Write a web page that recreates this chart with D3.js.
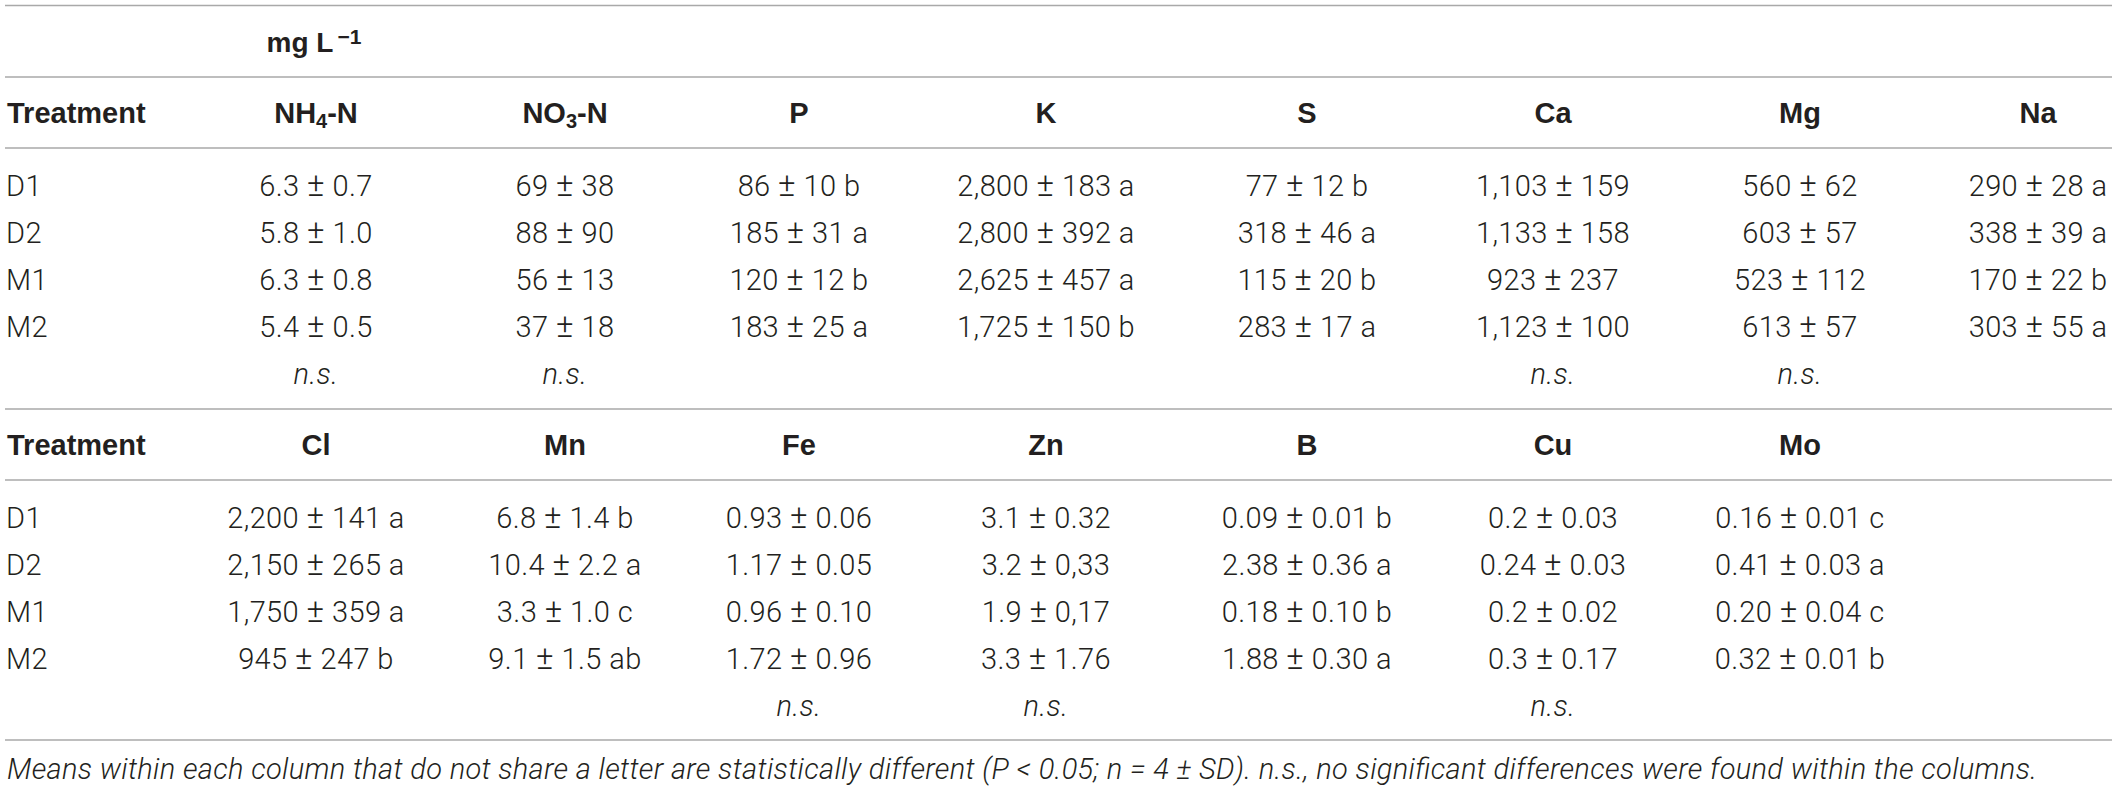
<!DOCTYPE html>
<html>
<head>
<meta charset="utf-8">
<script src="https://cdn.jsdelivr.net/npm/d3@7"></script>
<style>
  body { margin: 0; background: #fff; }
  svg { display: block; }
</style>
</head>
<body>
<div id="table"></div>
<script>
// Treatments (rows)
const treatments = ["D1", "D2", "M1", "M2"];

// Upper block: column headers [main, subscript, tail]
const headers1 = [["NH", "4", "-N"], ["NO", "3", "-N"], ["P"], ["K"], ["S"], ["Ca"], ["Mg"], ["Na"]];
const nh4 = ["6.3 ± 0.7", "5.8 ± 1.0", "6.3 ± 0.8", "5.4 ± 0.5"];
const no3 = ["69 ± 38", "88 ± 90", "56 ± 13", "37 ± 18"];
const p   = ["86 ± 10 b", "185 ± 31 a", "120 ± 12 b", "183 ± 25 a"];
const k   = ["2,800 ± 183 a", "2,800 ± 392 a", "2,625 ± 457 a", "1,725 ± 150 b"];
const s   = ["77 ± 12 b", "318 ± 46 a", "115 ± 20 b", "283 ± 17 a"];
const ca  = ["1,103 ± 159", "1,133 ± 158", "923 ± 237", "1,123 ± 100"];
const mg  = ["560 ± 62", "603 ± 57", "523 ± 112", "613 ± 57"];
const na  = ["290 ± 28 a", "338 ± 39 a", "170 ± 22 b", "303 ± 55 a"];
const ns1 = [true, true, false, false, false, true, true, false];

// Lower block
const headers2 = [["Cl"], ["Mn"], ["Fe"], ["Zn"], ["B"], ["Cu"], ["Mo"]];
const cl = ["2,200 ± 141 a", "2,150 ± 265 a", "1,750 ± 359 a", "945 ± 247 b"];
const mn = ["6.8 ± 1.4 b", "10.4 ± 2.2 a", "3.3 ± 1.0 c", "9.1 ± 1.5 ab"];
const fe = ["0.93 ± 0.06", "1.17 ± 0.05", "0.96 ± 0.10", "1.72 ± 0.96"];
const zn = ["3.1 ± 0.32", "3.2 ± 0,33", "1.9 ± 0,17", "3.3 ± 1.76"];
const b  = ["0.09 ± 0.01 b", "2.38 ± 0.36 a", "0.18 ± 0.10 b", "1.88 ± 0.30 a"];
const cu = ["0.2 ± 0.03", "0.24 ± 0.03", "0.2 ± 0.02", "0.3 ± 0.17"];
const mo = ["0.16 ± 0.01 c", "0.41 ± 0.03 a", "0.20 ± 0.04 c", "0.32 ± 0.01 b"];
const ns2 = [false, false, true, true, false, true, false];

const unitLabel = "mg L";
const footnote = "Means within each column that do not share a letter are statistically different (P < 0.05; n = 4 ± SD). n.s., no significant differences were found within the columns.";

const blocks = [
  {headers: headers1, cols: [nh4, no3, p, k, s, ca, mg, na], ns: ns1},
  {headers: headers2, cols: [cl, mn, fe, zn, b, cu, mo], ns: ns2}
];

const width = 2117, height = 789;
const ink = "#231f20";
const bodyFont = "Roboto, 'Liberation Sans', sans-serif";
const headFont = "'Liberation Sans', Arial, sans-serif";

const svg = d3.select("#table")
  .append("svg")
  .attr("width", width)
  .attr("height", height)
  .attr("viewBox", [0, 0, width, height]);

// column centres
const xScale = d3.scaleOrdinal()
  .domain(d3.range(8))
  .range([316, 565, 799, 1046, 1307, 1553, 1800, 2038]);

// rows: 0 = header, 1..4 = treatments, 5 = n.s.
const yScale = d3.scaleLinear()
  .domain([0, 1, 5])
  .range([113, 186, 374]);

const blockOffset = d3.scaleLinear().domain([0, 1]).range([0, 332]);

const rule = (y) => svg.append("line")
  .attr("x1", 5).attr("x2", 2112)
  .attr("y1", y).attr("y2", y)
  .attr("stroke", "#a9a9a9")
  .attr("stroke-width", 1.6);

const bodyText = sel => sel
  .style("font-family", bodyFont)
  .style("font-weight", 300)
  .style("font-size", "29px")
  .style("letter-spacing", "0.4px")
  .style("fill", ink);

rule(5.5);
rule(77);

// unit label over first column
const unit = svg.append("text")
  .attr("x", xScale(0) - 2)
  .attr("y", 42)
  .attr("dy", "0.35em")
  .attr("text-anchor", "middle")
  .style("font-family", headFont)
  .style("font-weight", "bold")
  .style("font-size", "28px")
  .style("fill", ink);
unit.append("tspan").text(unitLabel);
unit.append("tspan").attr("dx", 4).attr("baseline-shift", "38%").style("font-size", "21px").text("−1");

blocks.forEach((blk, bi) => {
  const off = blockOffset(bi);
  const g = svg.append("g").attr("transform", `translate(0,${off})`);

  if (bi === 1) rule(off + 77);
  g.append("line")
    .attr("x1", 5).attr("x2", 2112)
    .attr("y1", 148).attr("y2", 148)
    .attr("stroke", "#a9a9a9")
    .attr("stroke-width", 1.6);

  // header row
  g.append("text")
    .attr("x", 7)
    .attr("y", yScale(0))
    .attr("dy", "0.35em")
    .style("font-family", headFont)
    .style("font-weight", "bold")
    .style("font-size", "29px")
    .style("fill", ink)
    .text("Treatment");

  g.selectAll("text.head")
    .data(blk.headers)
    .join("text")
      .attr("class", "head")
      .attr("x", (d, i) => xScale(i))
      .attr("y", yScale(0))
      .attr("dy", "0.35em")
      .attr("text-anchor", "middle")
      .style("font-family", headFont)
      .style("font-weight", "bold")
      .style("font-size", "29px")
      .style("fill", ink)
      .each(function(d) {
        const t = d3.select(this);
        t.append("tspan").text(d[0]);
        if (d.length > 1) {
          t.append("tspan").attr("baseline-shift", "-25%").style("font-size", "20px").text(d[1]);
          t.append("tspan").text(d[2]);
        }
      });

  // treatment labels
  g.selectAll("text.treat")
    .data(treatments)
    .join("text")
      .attr("class", "treat")
      .attr("x", 6)
      .attr("y", (d, i) => yScale(i + 1))
      .attr("dy", "0.35em")
      .call(bodyText)
      .text(d => d);

  // values; the ± sign is drawn a bit larger, as in the print
  blk.cols.forEach((col, ci) => {
    g.selectAll(`text.v${ci}`)
      .data(col)
      .join("text")
        .attr("class", `v${ci}`)
        .attr("x", xScale(ci))
        .attr("y", (d, i) => yScale(i + 1))
        .attr("dy", "0.35em")
        .attr("text-anchor", "middle")
        .call(bodyText)
        .each(function(d) {
          const [m, rest] = d.split(" ± ");
          const t = d3.select(this);
          t.append("tspan").text(m + " ");
          t.append("tspan").style("font-size", "33px").style("font-weight", 300).text("±");
          t.append("tspan").text(" " + rest);
        });
  });

  // n.s. markers
  g.selectAll("text.ns")
    .data(blk.ns.map((v, i) => ({v, i})).filter(d => d.v))
    .join("text")
      .attr("class", "ns")
      .attr("x", d => xScale(d.i))
      .attr("y", yScale(5))
      .attr("dy", "0.35em")
      .attr("text-anchor", "middle")
      .call(bodyText)
      .style("font-style", "italic")
      .text("n.s.");
});

rule(740);

svg.append("text")
  .attr("x", 7)
  .attr("y", 769)
  .attr("dy", "0.35em")
  .attr("textLength", 2030)
  .attr("lengthAdjust", "spacing")
  .call(bodyText)
  .style("font-style", "italic")
  .style("letter-spacing", null)
  .text(footnote);
</script>
</body>
</html>
